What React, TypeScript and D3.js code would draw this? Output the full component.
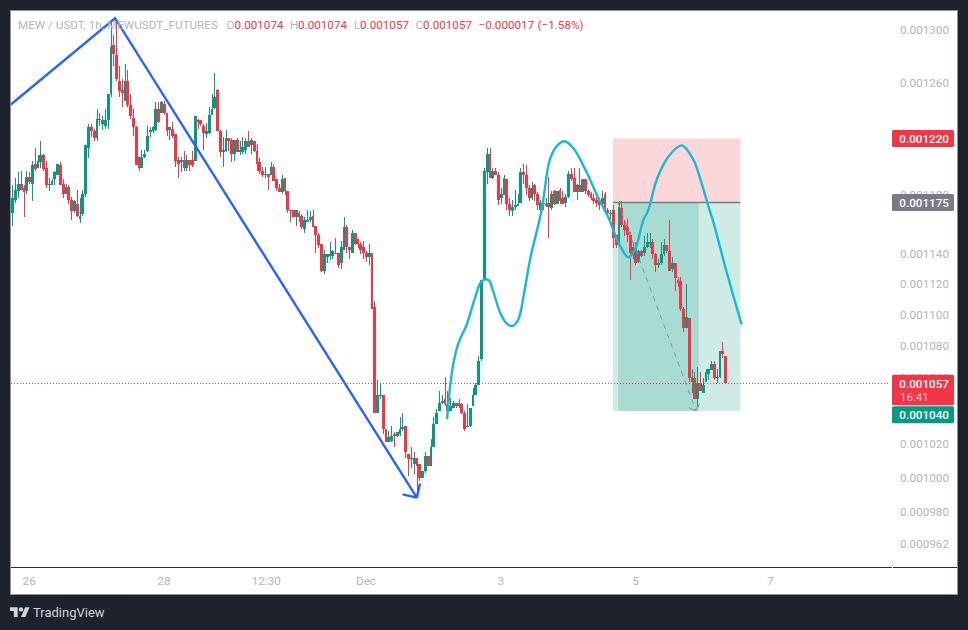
import { useEffect, useRef } from 'react'
import * as d3 from 'd3'

// prices in millionths of USDT, one candle per hour
const opens = [
  1168,1177,1183,1188,1185,1183,1193,1188,1202,1199,
  1203,1208,1199,1187,1187,1191,1194,1201,1188,1181,
  1186,1177,1169,1174,1164,1167,1181,1213,1228,1225,
  1220,1234,1230,1229,1233,1252,1289,1281,1262,1255,
  1247,1262,1244,1235,1228,1207,1199,1207,1211,1225,
  1225,1226,1241,1238,1245,1238,1226,1227,1223,1205,
  1203,1205,1199,1205,1205,1204,1233,1233,1229,1223,
  1224,1237,1242,1255,1225,1210,1211,1220,1219,1209,
  1219,1210,1210,1212,1218,1215,1218,1211,1203,1197,
  1194,1195,1194,1200,1191,1185,1182,1192,1183,1170,
  1170,1165,1168,1166,1157,1162,1163,1166,1159,1153,
  1147,1129,1138,1139,1139,1141,1141,1134,1143,1158,
  1145,1141,1154,1150,1147,1145,1141,1138,1141,1105,
  1039,1049,1050,1029,1021,1022,1026,1025,1026,1029,
  1031,1014,1012,1008,1012,1008,1000,1004,1013,1007,
  1018,1032,1040,1045,1047,1044,1040,1042,1045,1043,
  1044,1039,1030,1031,1043,1050,1056,1072,1123,1196,
  1209,1192,1197,1194,1178,1180,1191,1174,1169,1172,
  1173,1175,1196,1194,1185,1178,1187,1181,1170,1175,
  1173,1175,1171,1183,1174,1184,1178,1175,1179,1195,
  1192,1182,1187,1182,1191,1183,1181,1178,1177,1176,
  1174,1181,1170,1167,1170,1153,1146,1171,1160,1158,
  1153,1141,1144,1135,1142,1141,1145,1147,1148,1140,
  1133,1134,1140,1146,1142,1130,1134,1123,1122,1104,
  1092,1098,1058,1060,1047,1057,1051,1058,1063,1065,
  1069,1060,1061,1077,1074,
]
const highs = [
  1187,1192,1196,1197,1187,1197,1196,1204,1213,1208,
  1218,1209,1204,1192,1191,1197,1202,1203,1191,1188,
  1187,1179,1177,1184,1178,1184,1215,1230,1230,1227,
  1241,1238,1236,1241,1252,1305,1296,1307,1273,1263,
  1274,1270,1252,1241,1229,1207,1212,1212,1229,1228,
  1229,1246,1246,1247,1247,1238,1228,1232,1223,1207,
  1207,1211,1208,1205,1211,1236,1234,1233,1230,1231,
  1243,1252,1268,1256,1226,1221,1226,1220,1220,1219,
  1220,1218,1221,1220,1225,1220,1218,1216,1206,1200,
  1200,1195,1203,1202,1191,1188,1194,1192,1183,1170,
  1170,1170,1169,1167,1165,1170,1169,1170,1159,1154,
  1147,1143,1140,1148,1143,1151,1141,1149,1165,1160,
  1145,1156,1154,1150,1148,1149,1142,1147,1141,1109,
  1059,1057,1050,1029,1028,1031,1027,1027,1036,1039,
  1031,1014,1018,1015,1012,1008,1004,1015,1013,1023,
  1036,1041,1052,1050,1061,1052,1048,1046,1045,1047,
  1045,1040,1044,1042,1054,1057,1074,1123,1199,1213,
  1213,1199,1199,1196,1185,1194,1191,1178,1177,1184,
  1181,1199,1202,1201,1187,1189,1188,1182,1177,1182,
  1178,1193,1183,1184,1183,1185,1183,1181,1197,1199,
  1199,1188,1199,1191,1191,1184,1182,1181,1179,1178,
  1183,1182,1171,1170,1173,1153,1176,1176,1163,1164,
  1155,1148,1148,1143,1143,1152,1154,1154,1150,1141,
  1137,1148,1150,1146,1163,1138,1134,1125,1125,1105,
  1120,1098,1066,1064,1067,1064,1060,1066,1066,1071,
  1071,1066,1077,1083,1074,
]
const lows = [
  1159,1175,1178,1184,1165,1181,1188,1176,1197,1199,
  1199,1197,1185,1183,1187,1187,1194,1187,1178,1181,
  1174,1163,1168,1165,1161,1166,1179,1206,1221,1218,
  1218,1229,1226,1227,1227,1250,1273,1262,1250,1243,
  1247,1243,1234,1222,1201,1197,1199,1206,1210,1221,
  1224,1225,1231,1238,1237,1222,1219,1220,1200,1192,
  1196,1197,1197,1197,1200,1204,1227,1229,1212,1220,
  1223,1237,1241,1225,1207,1200,1210,1211,1203,1204,
  1210,1208,1209,1209,1214,1209,1210,1197,1195,1193,
  1192,1184,1194,1190,1183,1182,1181,1180,1168,1162,
  1165,1159,1162,1157,1154,1162,1162,1158,1141,1144,
  1128,1127,1134,1136,1137,1140,1131,1130,1143,1141,
  1137,1141,1146,1144,1140,1137,1135,1133,1104,1039,
  1039,1047,1026,1021,1021,1021,1018,1024,1025,1028,
  1012,1001,1006,1002,989,998,1000,1003,1007,1007,
  1018,1032,1040,1044,1043,1040,1040,1042,1042,1042,
  1038,1028,1030,1030,1043,1050,1056,1071,1122,1188,
  1192,1191,1194,1173,1174,1180,1170,1166,1166,1170,
  1173,1175,1188,1180,1176,1177,1176,1170,1169,1170,
  1172,1151,1170,1173,1174,1174,1174,1172,1178,1190,
  1182,1177,1182,1182,1181,1179,1177,1174,1172,1170,
  1173,1170,1165,1163,1144,1144,1145,1158,1152,1148,
  1123,1137,1133,1134,1138,1139,1144,1144,1137,1128,
  1131,1133,1139,1141,1129,1128,1116,1118,1103,1089,
  1092,1058,1051,1047,1042,1052,1051,1058,1059,1065,
  1059,1057,1060,1073,1057,
]
const closes = [
  1178,1184,1188,1184,1182,1193,1189,1201,1198,1204,
  1208,1198,1187,1188,1190,1196,1202,1187,1181,1186,
  1177,1169,1176,1166,1166,1181,1215,1228,1225,1220,
  1234,1233,1233,1233,1252,1287,1282,1263,1254,1253,
  1262,1244,1236,1228,1201,1199,1207,1209,1222,1226,
  1228,1241,1232,1246,1238,1225,1228,1222,1204,1202,
  1205,1199,1205,1201,1201,1236,1232,1230,1224,1225,
  1237,1241,1250,1225,1210,1212,1220,1218,1209,1219,
  1210,1212,1214,1218,1214,1219,1211,1202,1197,1194,
  1195,1193,1200,1190,1185,1182,1191,1183,1170,1169,
  1165,1170,1165,1158,1163,1163,1165,1158,1153,1146,
  1129,1140,1140,1140,1142,1140,1133,1145,1158,1145,
  1143,1154,1147,1147,1143,1141,1138,1141,1104,1039,
  1050,1050,1029,1021,1024,1025,1025,1027,1029,1030,
  1015,1011,1011,1012,1007,1000,1004,1013,1007,1018,
  1032,1039,1045,1046,1044,1040,1043,1045,1043,1045,
  1039,1029,1031,1042,1050,1056,1071,1123,1197,1209,
  1192,1197,1194,1177,1181,1192,1174,1170,1172,1173,
  1174,1196,1194,1185,1178,1185,1181,1173,1175,1174,
  1174,1172,1181,1174,1183,1176,1174,1179,1195,1191,
  1182,1187,1182,1191,1183,1180,1178,1176,1175,1173,
  1178,1171,1168,1168,1151,1146,1172,1160,1156,1153,
  1141,1145,1134,1142,1139,1145,1148,1148,1140,1133,
  1134,1140,1146,1142,1129,1134,1124,1121,1104,1092,
  1099,1060,1061,1047,1057,1052,1056,1064,1066,1069,
  1060,1061,1077,1075,1057,
]

const priceTicks = [1300, 1260, 1220, 1180, 1140, 1120, 1100, 1080, 1060, 1040, 1020, 1000, 980, 962]
const timeTickHours = [6, 54, 90.5, 126, 174, 222, 270]
const timeTickLabels = ['26', '28', '12:30', 'Dec', '3', '5', '7']

// drawings, as [candle hour, price]
const trendLine: [number, number][] = [[-0.8, 1244], [36.6, 1309], [144.1, 988.5]]
const targetPath: [number, number][] = [[215.8, 1175], [243.6, 1040]]
const indicator: [number, number][] = [
  [154.9, 1035], [155.9, 1054], [157.1, 1069], [158.9, 1082], [161.9, 1094], [164.8, 1111],
  [167.2, 1122], [169.6, 1123], [171.4, 1115], [173.7, 1102], [175.9, 1095], [178, 1093],
  [180.2, 1097], [182.3, 1114], [184.5, 1137], [188.6, 1170], [191.5, 1205], [194.2, 1215],
  [196.7, 1218], [199.9, 1213], [204.6, 1196], [208.8, 1178], [212.3, 1165], [215.9, 1148],
  [219.4, 1138], [221.8, 1143], [224.8, 1163], [226.6, 1170], [229.6, 1191], [233.7, 1207],
  [238.5, 1215], [242.6, 1205], [245, 1192], [247.9, 1173], [249.7, 1162], [254.5, 1128], [259.8, 1094],
]

// long position tool
const posStart = 214
const posEnd = 259.4
const fillStart = 215.8
const fillEnd = 244.5
const stopPrice = 1220
const entryPrice = 1175
const targetPrice = 1040
const lastPrice = 1057

const priceTags = [
  { price: 1220, color: '#f23645', shift: 0 },
  { price: 1175, color: '#787b86', shift: 0 },
  { price: 1040, color: '#089981', shift: 3.8 },
]

const legendParts: [number, string, string][] = [
  [18, 'MEW / USDT, 1h, MEWUSDT_FUTURES', '#b2b5be'],
  [226.5, 'O', '#b2b5be'], [234.5, '0.001074', '#f23645'],
  [290, 'H', '#b2b5be'], [298, '0.001074', '#f23645'],
  [354, 'L', '#b2b5be'], [360, '0.001057', '#f23645'],
  [415.5, 'C', '#b2b5be'], [423, '0.001057', '#f23645'],
  [478.5, '−0.000017', '#f23645'], [537.5, '(−1.58%)', '#f23645'],
]

const UP = '#089981'
const DOWN = '#f23645'
const FONT = 'Roboto, sans-serif'
const FONT_SIZE = 11.7

export default function App() {
  const svgRef = useRef<SVGSVGElement>(null)

  useEffect(() => {
    const svgEl = svgRef.current
    if (!svgEl) return
    const svg = d3.select(svgEl)
    svg.selectAll('*').remove()

    const x = d3.scaleLinear().domain([0, 254]).range([12.3, 725.3])
    const y = d3.scaleLog().domain([962, 1300]).range([544, 30])
    const candles = d3.range(opens.length)

    svg.append('rect').attr('width', 968).attr('height', 630).attr('fill', '#1e222d')
    svg.append('rect')
      .attr('x', 10.5).attr('y', 10.5).attr('width', 947).attr('height', 584)
      .attr('fill', '#ffffff').attr('stroke', '#8f929b').attr('stroke-width', 1)

    svg.append('clipPath').attr('id', 'pane')
      .append('rect').attr('x', 11).attr('y', 11).attr('width', 879).attr('height', 556)
    const pane = svg.append('g').attr('clip-path', 'url(#pane)')

    // position zones sit under the candles
    const zone = (x0: number, x1: number, p0: number, p1: number, fill: string) =>
      pane.append('rect')
        .attr('x', x(x0)).attr('width', x(x1) - x(x0))
        .attr('y', y(p0)).attr('height', y(p1) - y(p0))
        .attr('fill', fill)
    zone(posStart, posEnd, stopPrice, entryPrice, '#fcd7da')
    zone(posStart, posEnd, entryPrice, targetPrice, '#cfebe6')
    zone(fillStart, fillEnd, entryPrice, targetPrice, '#a8dcd3')

    // last price line
    const lastLine = Math.floor(y(lastPrice)) + 0.5
    pane.append('line')
      .attr('x1', 11).attr('x2', 890)
      .attr('y1', lastLine).attr('y2', lastLine)
      .attr('stroke', DOWN).attr('stroke-width', 1).attr('stroke-dasharray', '1 2')
      .attr('shape-rendering', 'crispEdges')

    const node = pane.append('g').selectAll('g').data(candles).enter().append('g')
      .attr('fill', i => (closes[i] >= opens[i] ? UP : DOWN))
      .attr('shape-rendering', 'crispEdges')
    node.append('rect')
      .attr('x', i => Math.round(x(i)))
      .attr('width', 1)
      .attr('y', i => y(highs[i]))
      .attr('height', i => Math.max(1, y(lows[i]) - y(highs[i])))
    node.append('rect')
      .attr('x', i => Math.round(x(i)) - 1)
      .attr('width', i => Math.min(3, Math.round(x(i + 1)) - Math.round(x(i))))
      .attr('y', i => y(Math.max(opens[i], closes[i])))
      .attr('height', i => Math.max(1.5, Math.abs(y(opens[i]) - y(closes[i]))))

    const toPath = d3.line<[number, number]>().x(d => x(d[0])).y(d => y(d[1]))

    // entry line of the position tool
    pane.append('line')
      .attr('x1', x(posStart)).attr('x2', x(posEnd))
      .attr('y1', y(entryPrice)).attr('y2', y(entryPrice))
      .attr('stroke', '#787b86').attr('stroke-width', 1.5)

    // dashed path to target, with a small head
    pane.append('path')
      .attr('d', toPath(targetPath))
      .attr('fill', 'none').attr('stroke', '#8b8f98').attr('stroke-width', 1)
      .attr('stroke-dasharray', '5 5')

    const arrowHead = (pts: [number, number][], len: number) => {
      const [a, b] = pts.slice(-2)
      const tipX = x(b[0]), tipY = y(b[1])
      const ang = Math.atan2(y(a[1]) - tipY, x(a[0]) - tipX)
      const arm = (d: number) =>
        `M${tipX + len * Math.cos(ang + d)},${tipY + len * Math.sin(ang + d)}L${tipX},${tipY}`
      return arm(Math.PI / 4) + arm(-Math.PI / 4)
    }
    pane.append('path')
      .attr('d', arrowHead(targetPath, 8))
      .attr('fill', 'none').attr('stroke', '#8b8f98').attr('stroke-width', 1)

    // teal indicator
    pane.append('path')
      .attr('d', d3.line<[number, number]>().x(d => x(d[0])).y(d => y(d[1])).curve(d3.curveCatmullRom)(indicator))
      .attr('fill', 'none').attr('stroke', '#17b9d2').attr('stroke-width', 2.4)

    // blue swing line
    pane.append('path')
      .attr('d', toPath(trendLine))
      .attr('fill', 'none').attr('stroke', '#2962ff').attr('stroke-width', 2.4)
    pane.append('path')
      .attr('d', arrowHead(trendLine, 14.5))
      .attr('fill', 'none').attr('stroke', '#2962ff').attr('stroke-width', 2.4)

    // legend line
    svg.append('g').selectAll('text').data(legendParts).enter().append('text')
      .attr('x', d => d[0]).attr('y', 29)
      .attr('font-family', FONT).attr('font-size', FONT_SIZE)
      .attr('fill', d => d[2])
      .text(d => d[1])

    // pane separator
    svg.append('line')
      .attr('x1', 11).attr('x2', 892).attr('y1', 567.5).attr('y2', 567.5)
      .attr('stroke', '#2a2e39').attr('stroke-width', 1)
    svg.append('line')
      .attr('x1', 893).attr('x2', 957).attr('y1', 567.5).attr('y2', 567.5)
      .attr('stroke', '#2a2e39').attr('stroke-width', 1)

    // time axis
    svg.append('g')
      .attr('transform', 'translate(0,567)')
      .call(
        d3.axisBottom(x)
          .tickValues(timeTickHours)
          .tickFormat((_, i) => timeTickLabels[i])
          .tickSize(0)
          .offset(0)
      )
      .call(ax => {
        ax.select('.domain').remove()
        ax.selectAll('.tick text')
          .attr('font-family', FONT).attr('font-size', FONT_SIZE)
          .attr('fill', '#b2b5be').attr('dy', 0).attr('y', 18)
      })

    // price axis
    svg.append('g')
      .attr('transform', 'translate(949,0)')
      .call(
        d3.axisRight(y)
          .tickValues(priceTicks)
          .tickFormat(v => (+v / 1e6).toFixed(6))
          .tickSize(0)
          .offset(0)
      )
      .call(ax => {
        ax.select('.domain').remove()
        ax.selectAll('.tick text')
          .attr('font-family', FONT).attr('font-size', FONT_SIZE)
          .attr('fill', '#b2b5be').attr('text-anchor', 'end').attr('x', 0)
      })

    // price tags
    priceTags.forEach(t => {
      const cy = y(t.price) + t.shift
      svg.append('rect')
        .attr('x', 892).attr('y', cy - 8.5).attr('width', 62).attr('height', 17)
        .attr('rx', 1.5).attr('fill', t.color)
      svg.append('text')
        .attr('x', 949).attr('y', cy + 4.3).attr('text-anchor', 'end')
        .attr('font-family', FONT).attr('font-size', FONT_SIZE).attr('font-weight', 500)
        .attr('fill', '#ffffff')
        .text((t.price / 1e6).toFixed(6))
    })
    const lastY = y(lastPrice)
    svg.append('rect')
      .attr('x', 892).attr('y', lastY - 8.6).attr('width', 62).attr('height', 30.6)
      .attr('rx', 1.5).attr('fill', DOWN)
    svg.append('text')
      .attr('x', 949).attr('y', lastY + 4.3).attr('text-anchor', 'end')
      .attr('font-family', FONT).attr('font-size', FONT_SIZE).attr('font-weight', 500)
      .attr('fill', '#ffffff')
      .text((lastPrice / 1e6).toFixed(6))
    svg.append('text')
      .attr('x', 900).attr('y', lastY + 17.5)
      .attr('font-family', FONT).attr('font-size', 11.5)
      .attr('fill', '#ffffff').attr('fill-opacity', 0.7)
      .text('16:41')

    // TradingView mark
    const logo = svg.append('g').attr('transform', 'translate(10,605) scale(0.55)').attr('fill', '#d1d4dc')
    logo.append('path').attr('d', 'M14 22H7V11H0V4h14v18zM28 22h-8l7.5-18h8L28 22z')
    logo.append('circle').attr('cx', 20).attr('cy', 8).attr('r', 4)
    svg.append('text')
      .attr('x', 33).attr('y', 617)
      .attr('font-family', FONT).attr('font-size', 13)
      .attr('fill', '#d1d4dc')
      .text('TradingView')
  }, [])

  return (
    <svg
      ref={svgRef}
      width={968}
      height={630}
      style={{ position: 'absolute', left: 0, top: 0, display: 'block' }}
    />
  )
}
